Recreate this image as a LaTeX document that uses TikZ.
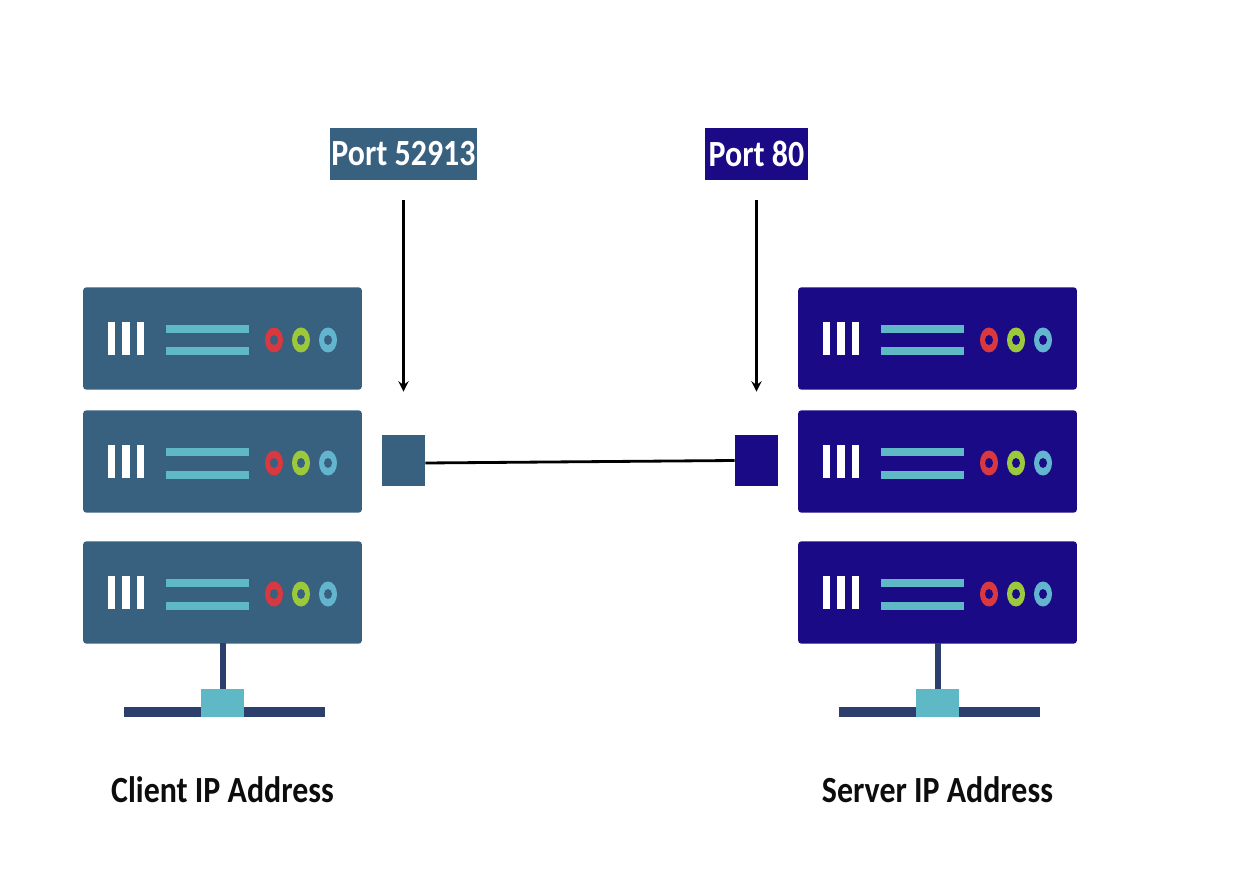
\documentclass[tikz,border=0pt]{standalone}
\usepackage{fontspec}
\setmainfont[FakeStretch=0.865]{Carlito}
\usetikzlibrary{arrows, positioning}

\definecolor{clientblue}{HTML}{38607F}
\definecolor{serverblue}{HTML}{1B0A85}
\definecolor{lightcyan}{HTML}{5FB8C6}
\definecolor{standblue}{HTML}{2C3E6B}
\definecolor{ledred}{HTML}{D8383F}
\definecolor{ledgreen}{HTML}{9CC93C}
\definecolor{ledblue}{HTML}{63B5CF}

\tikzset{
    rack/.style={minimum width=5.58cm, minimum height=2.05cm, inner sep=0, rounded corners=2pt},
    portbox/.style={minimum height=1.04cm, inner sep=0, text=white, font=\fontsize{21}{21}\selectfont\bfseries},
    portsquare/.style={minimum width=.86cm, minimum height=1.02cm, inner sep=0},
    caption/.style={font=\fontsize{21}{21}\selectfont\bfseries, text=black!95, inner sep=0},
    portarrow/.style={-stealth, line width=1.6pt, shorten <=.4cm, shorten >=.86cm},
}

\begin{document}
\begin{tikzpicture}[x=.02cm, y=-.02cm]
    \useasboundingbox (0, 0) rectangle (1244, 878);

    \foreach \side/\dx/\col/\txt in {client/0/clientblue/Client IP Address, server/715/serverblue/Server IP Address} {
        % the three racks
        \foreach \num/\ry in {1/338.5, 2/461.5, 3/592.5} {
            \node[rack, fill=\col] (\side rack\num) at (222.5+\dx, \ry) {};
            \foreach \bx in {107.5, 122, 136.5}
                \fill[white] (\bx+\dx, \ry-16.5) rectangle (\bx+7.5+\dx, \ry+16.5);
            \fill[lightcyan] (166+\dx, \ry-13.5) rectangle (249+\dx, \ry-5.5);
            \fill[lightcyan] (166+\dx, \ry+9) rectangle (249+\dx, \ry+17);
            \foreach \cx/\led in {274/ledred, 301/ledgreen, 328/ledblue} {
                \fill[\led] (\cx+\dx, \ry+1.5) ellipse [x radius=9, y radius=12.5];
                \fill[\col] (\cx+\dx, \ry+1.5) ellipse [x radius=4, y radius=5];
            }
        }
        % stand under the racks
        \fill[standblue] (219.5+\dx, 643) rectangle (225.5+\dx, 690);
        \fill[standblue] (124+\dx, 707) rectangle (325+\dx, 717);
        \fill[lightcyan] (201+\dx, 689) rectangle (244+\dx, 717);
        \node[caption] (\side caption) at (222.5+\dx, 790) {\txt};
    }

    \node[portbox, fill=clientblue, minimum width=2.94cm] (clientport) at (403.5, 154) {Port 52913};
    \node[portbox, fill=serverblue, minimum width=2.06cm] (serverport) at (756.5, 154) {Port 80};
    \node[portsquare, fill=clientblue] (clientsquare) at (403.5, 460.5) {};
    \node[portsquare, fill=serverblue] (serversquare) at (756.5, 460.5) {};

    \draw[portarrow] (clientport) -- (clientsquare);
    \draw[portarrow] (serverport) -- (serversquare);
    \draw[line width=1.6pt] ([yshift=-.05cm]clientsquare.east) -- (serversquare.west);
\end{tikzpicture}
\end{document}
